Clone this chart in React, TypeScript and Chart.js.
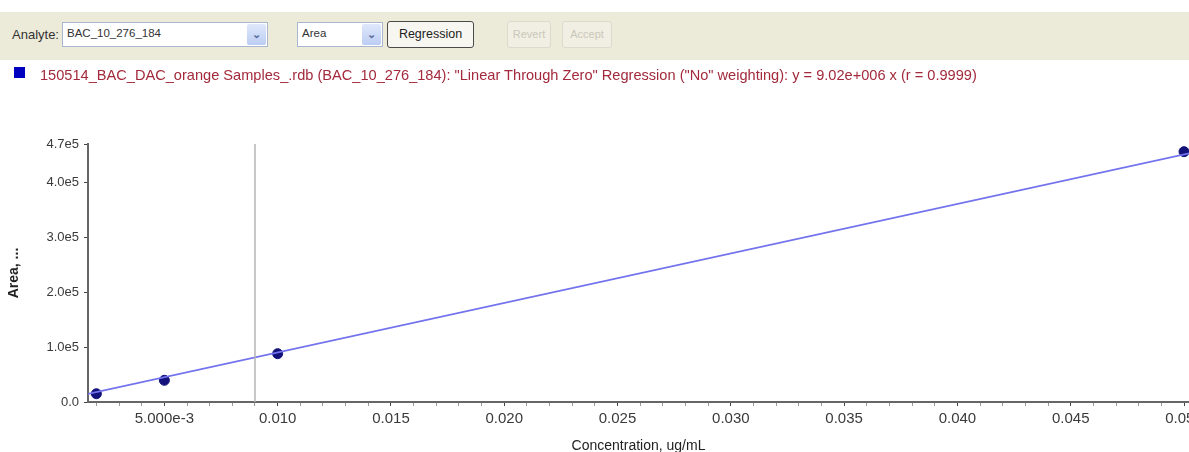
import React, { useEffect, useRef } from "react";
import { Chart, registerables } from "chart.js";

Chart.register(...registerables);

// ---- data ----
const CONCENTRATIONS = [0.002, 0.005, 0.01, 0.05];
const AREAS = [15000, 39500, 88000, 456000];
const REG_X = [0.00163, 0.05022];
const REG_Y = [14700, 452984];
const CURSOR_X = [0.009, 0.009];
const CURSOR_Y = [0, 470000];
const X_MAJOR_TICKS = [0.005, 0.01, 0.015, 0.02, 0.025, 0.03, 0.035, 0.04, 0.045, 0.05];
const X_TICK_LABELS = ["5.000e-3", "0.010", "0.015", "0.020", "0.025", "0.030", "0.035", "0.040", "0.045", "0.050"];
const X_MINOR_TICKS = [0.002, 0.003, 0.004, 0.006, 0.007, 0.008, 0.009, 0.011, 0.012, 0.013, 0.014, 0.016, 0.017, 0.018, 0.019, 0.021, 0.022, 0.023, 0.024, 0.026, 0.027, 0.028, 0.029, 0.031, 0.032, 0.033, 0.034, 0.036, 0.037, 0.038, 0.039, 0.041, 0.042, 0.043, 0.044, 0.046, 0.047, 0.048, 0.049];
const Y_TICKS = [0, 100000, 200000, 300000, 400000, 470000];
const Y_TICK_LABELS = ["0.0", "1.0e5", "2.0e5", "3.0e5", "4.0e5", "4.7e5"];

const LEGEND_TEXT =
  '150514_BAC_DAC_orange Samples_.rdb (BAC_10_276_184): "Linear Through Zero" Regression ("No" weighting): y = 9.02e+006 x (r = 0.9999)';

const FONT = "'Liberation Sans', Arial, sans-serif";

function Combo({ left, width, text }: { left: number; width: number; text: string }) {
  return (
    <div
      style={{
        position: "absolute",
        left,
        top: 22,
        width,
        height: 25,
        background: "#fff",
        border: "1px solid #a9b8d0",
        boxSizing: "border-box",
      }}
    >
      <span style={{ position: "absolute", left: 4, top: 4, fontSize: 11.5, color: "#333" }}>{text}</span>
      <div
        style={{
          position: "absolute",
          right: 1,
          top: 1,
          width: 19,
          height: 21,
          background: "linear-gradient(#dfe8fb,#bccdf3)",
          borderRadius: 2,
          color: "#5a6f9a",
          fontSize: 11,
          textAlign: "center",
          lineHeight: "21px",
          fontWeight: "bold",
        }}
      >
        ⌄
      </div>
    </div>
  );
}

function Btn({ left, width, text, disabled }: { left: number; width: number; text: string; disabled?: boolean }) {
  return (
    <div
      style={{
        position: "absolute",
        left,
        top: 21,
        width,
        height: 27,
        boxSizing: "border-box",
        border: disabled ? "1px solid #dcdacb" : "1px solid #4a4a4a",
        borderRadius: 3,
        background: disabled ? "#f1efe4" : "#f7f6f0",
        color: disabled ? "#c9c7b9" : "#222",
        fontSize: disabled ? 11 : 12.5,
        textAlign: "center",
        lineHeight: "25px",
      }}
    >
      {text}
    </div>
  );
}

export default function App() {
  const ref = useRef<HTMLCanvasElement | null>(null);

  useEffect(() => {
    document.body.style.margin = "0";
    const canvas = ref.current!;
    const chart = new Chart(canvas, {
      type: "scatter",
      data: {
        datasets: [
          {
            type: "line",
            data: CURSOR_X.map((x, i) => ({ x, y: CURSOR_Y[i] })),
            borderColor: "#b4b4b4",
            borderWidth: 1.5,
            pointRadius: 0,
            showLine: true,
          },
          {
            type: "line",
            data: REG_X.map((x, i) => ({ x, y: REG_Y[i] })),
            borderColor: "#7373ee",
            borderWidth: 1.6,
            pointRadius: 0,
            showLine: true,
          },
          {
            data: CONCENTRATIONS.map((x, i) => ({ x, y: AREAS[i] })),
            backgroundColor: "#12127a",
            borderColor: "#12127a",
            pointRadius: 5,
            showLine: false,
          },
        ],
      },
      options: {
        animation: false,
        responsive: false,
        maintainAspectRatio: false,
        layout: { autoPadding: false, padding: { top: 144, left: 0, right: 0, bottom: 0 } },
        plugins: { legend: { display: false }, tooltip: { enabled: false } },
        scales: {
          x: {
            type: "linear",
            min: REG_X[0],
            max: REG_X[1],
            afterBuildTicks: (s: any) => {
              const all = [...X_MAJOR_TICKS, ...X_MINOR_TICKS].sort((a, b) => a - b);
              s.ticks = all.map((v) => ({ value: v }));
            },
            afterFit: (s: any) => {
              s.paddingRight = 0;
              s.paddingLeft = 0;
              s.height = 50;
            },
            ticks: {
              autoSkip: false,
              maxRotation: 0,
              padding: 4,
              color: "#3a3a3a",
              font: { family: FONT, size: 15 },
              callback: (v: any) => {
                const i = X_MAJOR_TICKS.findIndex((t) => Math.abs(t - v) < 1e-9);
                return i >= 0 ? X_TICK_LABELS[i] : "";
              },
            },
            grid: {
              drawOnChartArea: false,
              drawTicks: true,
              tickLength: 4,
              color: (c: any) => {
                const v = c.tick ? c.tick.value : 0;
                return X_MAJOR_TICKS.some((t) => Math.abs(t - v) < 1e-9) ? "#444" : "#999";
              },
            },
            border: { color: "#666", width: 2 },
            title: {
              display: true,
              text: "Concentration, ug/mL",
              color: "#222",
              font: { family: FONT, size: 14 },
              padding: { top: 0, bottom: -3 },
            },
          },
          y: {
            type: "linear",
            min: 0,
            max: 470000,
            afterBuildTicks: (s: any) => {
              s.ticks = Y_TICKS.map((v) => ({ value: v }));
            },
            afterFit: (s: any) => {
              s.width = 88;
            },
            ticks: {
              padding: 5,
              color: "#3a3a3a",
              font: { family: FONT, size: 13 },
              callback: (v: any) => {
                const i = Y_TICKS.indexOf(v);
                return i >= 0 ? Y_TICK_LABELS[i] : "";
              },
            },
            grid: { drawOnChartArea: false, drawTicks: true, tickLength: 4, color: "#444" },
            border: { color: "#666", width: 2 },
            title: {
              display: true,
              text: "Area, ...",
              color: "#222",
              font: { family: FONT, size: 14, weight: "bold" },
              padding: { top: 6, bottom: 0 },
            },
          },
        },
      },
    } as any);
    return () => chart.destroy();
  }, []);

  return (
    <div style={{ position: "relative", width: 1189, height: 452, overflow: "hidden", fontFamily: FONT, background: "#fff" }}>
      <canvas ref={ref} width={1189} height={452} style={{ position: "absolute", left: 0, top: 0, width: 1189, height: 452 }} />
      <div style={{ position: "absolute", left: 0, top: 12, width: 1189, height: 48, background: "#ecead9" }} />
      <span style={{ position: "absolute", left: 12, top: 27, fontSize: 13, color: "#333" }}>Analyte:</span>
      <Combo left={62} width={206} text="BAC_10_276_184" />
      <Combo left={297} width={86} text="Area" />
      <Btn left={387} width={87} text="Regression" />
      <Btn left={507} width={44} text="Revert" disabled />
      <Btn left={562} width={50} text="Accept" disabled />
      <div style={{ position: "absolute", left: 14, top: 67, width: 11, height: 11, background: "#0000bf" }} />
      <span style={{ position: "absolute", left: 40, top: 67, fontSize: 14.6, color: "#a32a3c", whiteSpace: "nowrap" }}>
        {LEGEND_TEXT}
      </span>
    </div>
  );
}
